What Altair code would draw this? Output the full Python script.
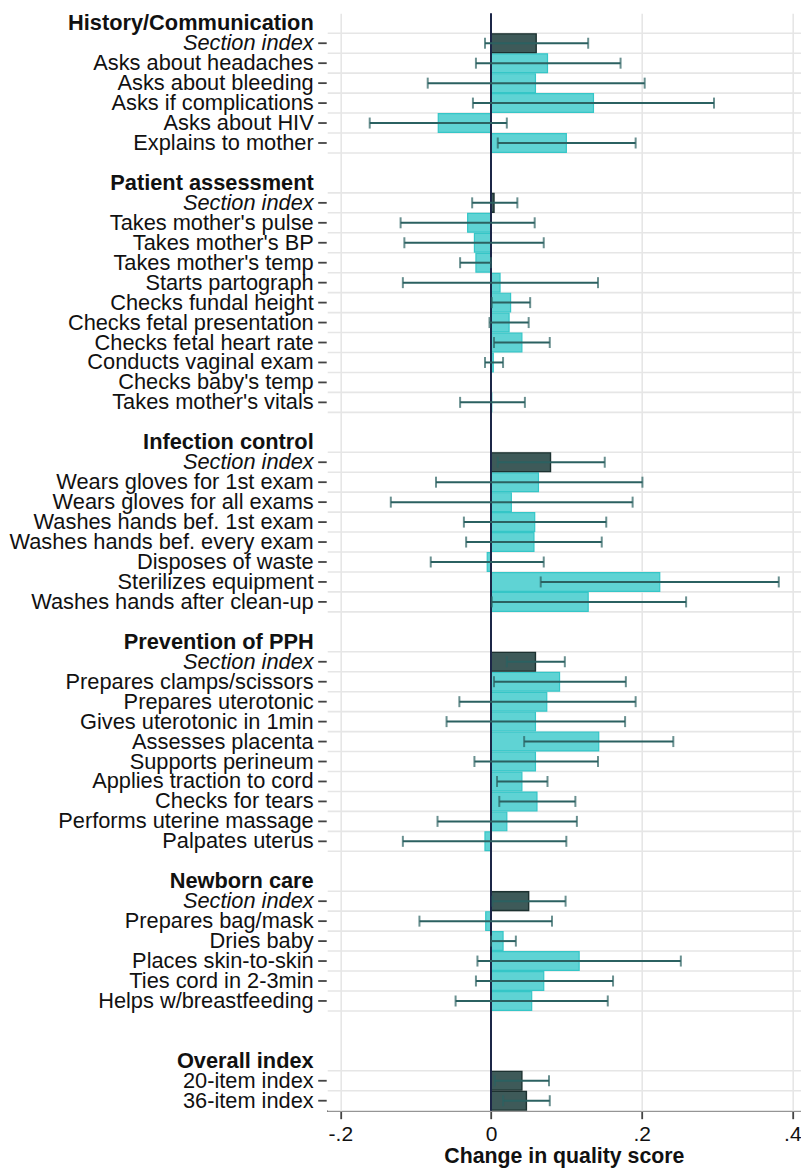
import altair as alt
import pandas as pd

# Row labels, top to bottom (blank strings are spacer rows)
labels = [
    "History/Communication", "Section index", "Asks about headaches", "Asks about bleeding",
    "Asks if complications", "Asks about HIV", "Explains to mother", "",
    "Patient assessment", "Section index", "Takes mother's pulse", "Takes mother's BP",
    "Takes mother's temp", "Starts partograph", "Checks fundal height",
    "Checks fetal presentation", "Checks fetal heart rate", "Conducts vaginal exam",
    "Checks baby's temp", "Takes mother's vitals", "",
    "Infection control", "Section index", "Wears gloves for 1st exam", "Wears gloves for all exams",
    "Washes hands bef. 1st exam", "Washes hands bef. every exam", "Disposes of waste",
    "Sterilizes equipment", "Washes hands after clean-up", "",
    "Prevention of PPH", "Section index", "Prepares clamps/scissors", "Prepares uterotonic",
    "Gives uterotonic in 1min", "Assesses placenta", "Supports perineum",
    "Applies traction to cord", "Checks for tears", "Performs uterine massage", "Palpates uterus", "",
    "Newborn care", "Section index", "Prepares bag/mask", "Dries baby", "Places skin-to-skin",
    "Ties cord in 2-3min", "Helps w/breastfeeding", "", "",
    "Overall index", "20-item index", "36-item index",
]

# H = section heading, S = section index, I = single item, O = overall index, B = blank
roles = [
    "H", "S", "I", "I", "I", "I", "I", "B",
    "H", "S", "I", "I", "I", "I", "I", "I", "I", "I", "I", "I", "B",
    "H", "S", "I", "I", "I", "I", "I", "I", "I", "B",
    "H", "S", "I", "I", "I", "I", "I", "I", "I", "I", "I", "B",
    "H", "S", "I", "I", "I", "I", "I", "B", "B",
    "H", "O", "O",
]

# Point estimates of the change in quality score
estimate = [
    None, 0.060, 0.075, 0.059, 0.136, -0.070, 0.100, None,
    None, 0.004, -0.031, -0.022, -0.020, 0.012, 0.026, 0.024, 0.041, 0.003, 0.0, 0.001, None,
    None, 0.079, 0.063, 0.027, 0.058, 0.057, -0.005, 0.224, 0.129, None,
    None, 0.059, 0.091, 0.074, 0.059, 0.143, 0.059, 0.041, 0.061, 0.021, -0.008, None,
    None, 0.050, -0.007, 0.016, 0.117, 0.070, 0.054, None, None,
    None, 0.041, 0.047,
]

# Lower and upper confidence limits
ci_low = [
    None, -0.008, -0.020, -0.084, -0.024, -0.161, 0.009, None,
    None, -0.025, -0.120, -0.115, -0.041, -0.117, 0.001, -0.002, 0.004, -0.008, None, -0.041, None,
    None, 0.009, -0.073, -0.133, -0.036, -0.033, -0.080, 0.066, 0.001, None,
    None, 0.021, 0.004, -0.042, -0.059, 0.044, -0.022, 0.008, 0.011, -0.071, -0.117, None,
    None, 0.002, -0.095, 0.000, -0.018, -0.020, -0.047, None, None,
    None, 0.005, 0.016,
]
ci_high = [
    None, 0.129, 0.172, 0.204, 0.296, 0.021, 0.192, None,
    None, 0.035, 0.058, 0.070, 0.000, 0.142, 0.052, 0.050, 0.078, 0.016, None, 0.045, None,
    None, 0.151, 0.201, 0.188, 0.153, 0.147, 0.070, 0.382, 0.259, None,
    None, 0.098, 0.179, 0.192, 0.178, 0.242, 0.142, 0.075, 0.112, 0.114, 0.100, None,
    None, 0.099, 0.081, 0.033, 0.252, 0.162, 0.155, None, None,
    None, 0.077, 0.078,
]

df = pd.DataFrame({
    "label": labels, "role": roles, "est": estimate, "lo": ci_low, "hi": ci_high,
})
df["row"] = range(len(df))
df["top"] = df["row"] - 0.47
df["bot"] = df["row"] + 0.47

data_rows = df[df["role"].isin(["S", "I", "O"])]
grid_y = sorted(set(list(data_rows["row"] - 0.5) + list(data_rows["row"] + 0.5)))
grid_df = pd.DataFrame({"gy": grid_y})

W = 474.3
H = 1097.4
FONT = "Liberation Sans"
LABEL_SIZE = 21.8
X_DOMAIN = [-0.2181, 0.4115]

xscale = alt.Scale(domain=X_DOMAIN, nice=False, zero=False)
yscale = alt.Scale(domain=[-0.5, len(labels) - 0.5], reverse=True, nice=False, zero=False)

base = alt.Chart(df)

hgrid = alt.Chart(grid_df).mark_rule(color="#e6e6e6", strokeWidth=1.6).encode(
    x=alt.value(1), x2=alt.value(W),
    y=alt.Y("gy:Q", scale=yscale, axis=None),
)

axes = base.mark_point(opacity=0).encode(
    x=alt.X("est:Q", scale=xscale,
            axis=alt.Axis(values=[-0.2, 0, 0.2, 0.4], grid=True, gridColor="#e6e6e6",
                          gridWidth=1.6, tickSize=8, tickColor="#444444", tickWidth=1.8,
                          domainColor="#444444", domainWidth=1.8,
                          labelFont=FONT, labelFontSize=21, labelColor="#111111",
                          labelPadding=5,
                          labelExpr="datum.value == 0 ? '0' : (datum.value < 0 ? '-' : '') + replace(format(abs(datum.value), '.1f'), '0.', '.')",
                          title="Change in quality score", titleFont=FONT, titleFontSize=21.3,
                          titleFontWeight="bold", titleColor="#111111", titlePadding=1)),
    y=alt.Y("row:Q", scale=yscale,
            axis=alt.Axis(labels=False, ticks=False, grid=False, title=None,
                          domainColor="#444444", domainWidth=1.8)),
)

bars_item = base.transform_filter("datum.role == 'I'").mark_bar(
    color="#5fd3d4", stroke="#35c6c7", strokeWidth=1.2
).encode(
    x=alt.X("est:Q", scale=xscale), x2=alt.datum(0),
    y=alt.Y("top:Q", scale=yscale), y2="bot:Q",
)

bars_index = base.transform_filter("datum.role == 'S' || datum.role == 'O'").mark_bar(
    color="#3e5a59", stroke="#1d3231", strokeWidth=1.4
).encode(
    x=alt.X("est:Q", scale=xscale), x2=alt.datum(0),
    y=alt.Y("top:Q", scale=yscale), y2="bot:Q",
)

zero_line = alt.Chart(pd.DataFrame({"z": [0.0]})).mark_rule(
    color="#1c2647", strokeWidth=2
).encode(x=alt.X("z:Q", scale=xscale), y=alt.value(0), y2=alt.value(H))

ci_df = base.transform_filter("datum.lo != null && datum.hi != null")
ci_line = ci_df.mark_rule(color="#2b6161", strokeWidth=2).encode(
    x=alt.X("lo:Q", scale=xscale), x2="hi:Q",
    y=alt.Y("row:Q", scale=yscale),
)
cap_lo = ci_df.mark_tick(color="#2b6161", orient="vertical", size=11, thickness=2).encode(
    x=alt.X("lo:Q", scale=xscale), y=alt.Y("row:Q", scale=yscale),
)
cap_hi = ci_df.mark_tick(color="#2b6161", orient="vertical", size=11, thickness=2).encode(
    x=alt.X("hi:Q", scale=xscale), y=alt.Y("row:Q", scale=yscale),
)

# Left-hand row labels and their ticks
ytick = base.transform_filter("datum.role == 'S' || datum.role == 'I' || datum.role == 'O'").mark_rule(
    color="#444444", strokeWidth=1.8
).encode(x=alt.value(-8.5), x2=alt.value(0), y=alt.Y("row:Q", scale=yscale))

text_common = dict(align="right", baseline="middle", font=FONT, fontSize=LABEL_SIZE, color="#111111")
lab_head = base.transform_filter("datum.role == 'H'").mark_text(
    fontWeight="bold", **text_common
).encode(x=alt.value(-13), y=alt.Y("row:Q", scale=yscale), text="label:N")
lab_sect = base.transform_filter("datum.role == 'S'").mark_text(
    fontStyle="italic", **text_common
).encode(x=alt.value(-13), y=alt.Y("row:Q", scale=yscale), text="label:N")
lab_item = base.transform_filter("datum.role == 'I' || datum.role == 'O'").mark_text(
    **text_common
).encode(x=alt.value(-13), y=alt.Y("row:Q", scale=yscale), text="label:N")

chart = alt.layer(
    hgrid, axes, bars_item, bars_index, zero_line, ci_line, cap_lo, cap_hi,
    ytick, lab_head, lab_sect, lab_item,
).properties(
    width=W, height=H,
    autosize=alt.AutoSizeParams(type="none"),
    padding={"left": 326.7, "top": 13.3, "right": 0, "bottom": 58},
    background="white",
).configure_view(stroke=None)

chart.save("out.html", embed_options={"renderer": "svg", "actions": False})
